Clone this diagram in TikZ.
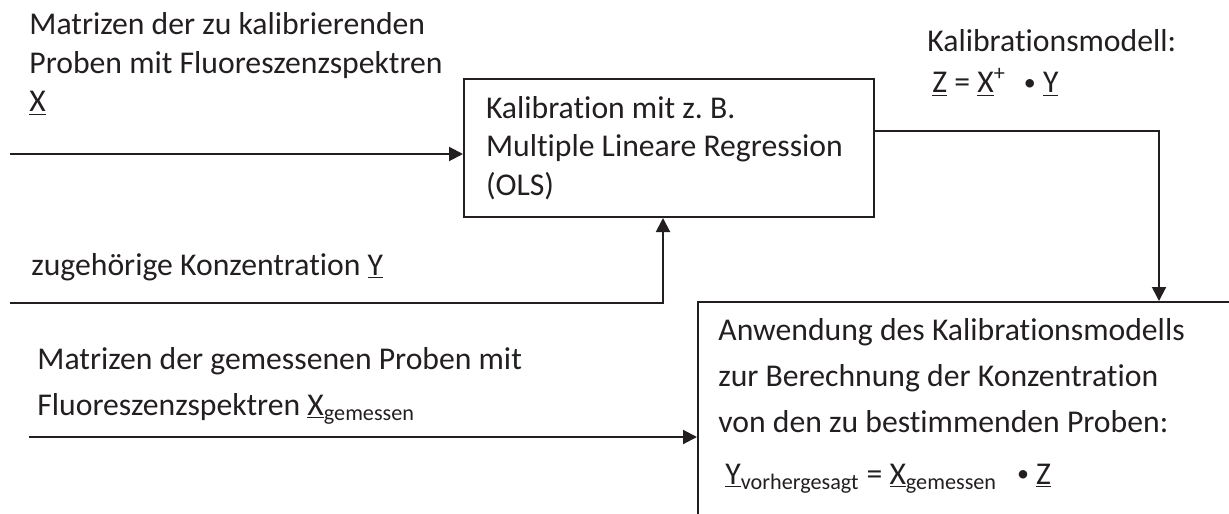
\documentclass[tikz,border=0pt]{standalone}
\usepackage{fontspec}
\setmainfont{Carlito}[Ligatures=NoCommon]
\frenchspacing
\usetikzlibrary{arrows.meta,positioning}
\definecolor{ink}{RGB}{35,31,32}
\tikzset{
  txt/.style={inner sep=0pt, anchor=base west, align=left, text=ink},
  box/.style={draw=ink, line width=1pt},
  arr/.style={draw=ink, line width=1pt, -{Triangle[length=7pt,width=7pt]}},
}
\newcommand{\grosz}{\fontsize{15.85pt}{19.4pt}\selectfont}
\newcommand{\weit}{\fontsize{15.85pt}{23pt}\selectfont}
\newcommand{\punkt}{\raisebox{1.2pt}{\fontsize{12pt}{12pt}\selectfont•}}

\begin{document}
\begin{tikzpicture}[x=0.5pt,y=-0.5pt,font=\grosz]
\useasboundingbox (0,0) rectangle (1229,513);
\clip (0,0) rectangle (1229,513);
% Kaestchen
\node[box, anchor=north west, text width=183pt, inner xsep=11pt, minimum height=69pt, align=flush left, text=ink] (calib) at (463,78)
  {Kalibration mit z. B.\\Multiple Lineare Regression\\(OLS)};
\node[box, anchor=north west, minimum width=276pt, minimum height=116pt] (anwbox) at (697,301) {};
% (Anker: letzte Grundlinie)
\node[txt, font=\weit] (anw) at (718,484)
  {Anwendung des Kalibrationsmodells\\zur Berechnung der Konzentration\\von den zu bestimmenden Proben:\\[3pt]
   \hspace{3.5pt}\underline{Y}\textsubscript{vorhergesagt} = \underline{X}\textsubscript{gemessen}\hspace{10pt}\punkt\ \underline{Z}};
% Beschriftungen
\node[txt] (xkal) at (29,112) {Matrizen der zu kalibrierenden\\Proben mit Fluoreszenzspektren\\\underline{X}};
\node[txt] (modell) at (927,52) {Kalibrationsmodell:};
\node[txt, below=20.5pt of modell.base west, anchor=base west] (zform)
  {\hspace{2.5pt}\underline{Z} = \underline{X}\textsuperscript{+}\hspace{9pt}\punkt\ \underline{Y}};
\node[txt] (ykonz) at (31,275) {zugehörige Konzentration \underline{Y}};
\node[txt, font=\weit] (xmess) at (37,415)
  {Matrizen der gemessenen Proben mit\\Fluoreszenzspektren \underline{X}\textsubscript{gemessen}};
% Pfeile
\coordinate (xin) at (10,154);
\coordinate (yin) at (10,303);
\coordinate (yup) at (663,303);
\coordinate (messin) at (29,437);
\coordinate (knick) at (1159,131);
\draw[arr] (xin) -- (xin -| calib.west);
\draw[arr] (yin) -| (calib.south -| yup);
\draw[arr] (messin) -- (messin -| anwbox.west);
\draw[arr] (calib.east |- knick) -| (anwbox.north -| knick);
\end{tikzpicture}
\end{document}
